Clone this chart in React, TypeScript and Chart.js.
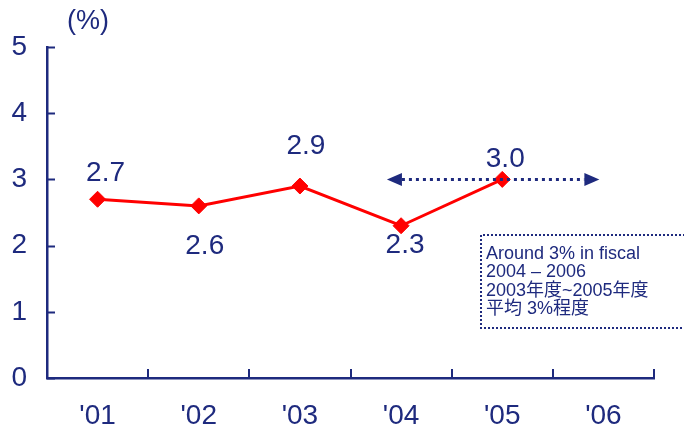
import React, { useEffect, useRef } from "react";
import { Chart, registerables } from "chart.js";

Chart.register(...registerables);

const categories = ["'01", "'02", "'03", "'04", "'05", "'06"];
const values: (number | null)[] = [2.7, 2.6, 2.9, 2.3, 3.0, null];
const valueLabels = ["2.7", "2.6", "2.9", "2.3", "3.0", ""];
const yTicks = [0, 1, 2, 3, 4, 5];
const unitLabel = "(%)";
const noteLines = ["Around 3% in fiscal", "2004 – 2006", "2003年度~2005年度", "平均 3%程度"];
// arrow range in category index units and its value
const arrowFrom = 2.86;
const arrowTo = 4.96;
const arrowValue = 3.0;

// style / layout config
const NAVY = "#1e2a7e";
const RED = "#ff0000";
const FONT = "'Liberation Sans', Arial, 'Noto Sans CJK JP', sans-serif";
const labelOffsets = [-26, 40, -40, 20, -20, 0];
const labelShifts = [8, 6, 6, 4, 3, 0];

const overlay = {
  id: "overlay",
  afterDraw(chart: any) {
    const { ctx, chartArea, scales } = chart;
    const x = scales.x;
    const y = scales.y;
    ctx.save();
    // inward ticks
    ctx.strokeStyle = NAVY;
    ctx.lineWidth = 2;
    ctx.beginPath();
    yTicks.forEach((v) => {
      const py = Math.round(y.getPixelForValue(v)) + 0.5;
      ctx.moveTo(chartArea.left, py);
      ctx.lineTo(chartArea.left + 8, py);
    });
    for (let i = 0; i <= categories.length; i++) {
      const px = Math.round(x.getPixelForValue(i - 0.5));
      ctx.moveTo(px, chartArea.bottom);
      ctx.lineTo(px, chartArea.bottom - 9);
    }
    ctx.stroke();

    // unit label
    ctx.fillStyle = NAVY;
    ctx.font = `27px ${FONT}`;
    ctx.textAlign = "center";
    ctx.textBaseline = "middle";
    ctx.fillText(unitLabel, chartArea.left + 41, chartArea.top - 25);

    // value labels
    ctx.font = `28px ${FONT}`;
    const meta = chart.getDatasetMeta(0);
    meta.data.forEach((pt: any, i: number) => {
      if (values[i] == null) return;
      ctx.fillText(valueLabels[i], pt.x + labelShifts[i], pt.y + labelOffsets[i]);
    });

    // dotted double arrow
    const ax1 = x.getPixelForValue(arrowFrom);
    const ax2 = x.getPixelForValue(arrowTo);
    const ay = y.getPixelForValue(arrowValue);
    const head = 15;
    const hh = 6.5;
    ctx.strokeStyle = NAVY;
    ctx.lineWidth = 3;
    ctx.setLineDash([3, 4]);
    ctx.beginPath();
    ctx.moveTo(ax1 + head, ay);
    ctx.lineTo(ax2 - head, ay);
    ctx.stroke();
    ctx.setLineDash([]);
    ctx.fillStyle = NAVY;
    ctx.beginPath();
    ctx.moveTo(ax1, ay);
    ctx.lineTo(ax1 + head, ay - hh);
    ctx.lineTo(ax1 + head, ay + hh);
    ctx.closePath();
    ctx.fill();
    ctx.beginPath();
    ctx.moveTo(ax2, ay);
    ctx.lineTo(ax2 - head, ay - hh);
    ctx.lineTo(ax2 - head, ay + hh);
    ctx.closePath();
    ctx.fill();

    // note box
    const bx = chartArea.left + 434;
    const by = chartArea.top + 188;
    const bh = 93;
    ctx.strokeStyle = NAVY;
    ctx.lineWidth = 2;
    ctx.setLineDash([2, 2]);
    ctx.beginPath();
    ctx.moveTo(chart.width + 5, by);
    ctx.lineTo(bx, by);
    ctx.lineTo(bx, by + bh);
    ctx.lineTo(chart.width + 5, by + bh);
    ctx.stroke();
    ctx.setLineDash([]);
    ctx.font = `18px ${FONT}`;
    ctx.textAlign = "left";
    ctx.textBaseline = "middle";
    noteLines.forEach((t, i) => {
      ctx.fillText(t, bx + 5, by + 19 + i * 18.5);
    });
    ctx.restore();
  },
};

export default function App() {
  const ref = useRef<HTMLCanvasElement>(null);
  useEffect(() => {
    document.body.style.margin = "0";
    const chart = new Chart(ref.current!, {
      type: "line",
      data: {
        labels: categories,
        datasets: [
          {
            data: values,
            borderColor: RED,
            backgroundColor: RED,
            borderWidth: 3,
            pointStyle: "rectRot",
            pointRadius: 8,
            pointBorderWidth: 1,
            pointBackgroundColor: RED,
            pointBorderColor: RED,
            spanGaps: false,
          },
        ],
      },
      options: {
        animation: false,
        responsive: false,
        events: [],
        layout: { padding: { top: 47, right: 30, left: 0, bottom: 0 } },
        plugins: { legend: { display: false }, tooltip: { enabled: false } },
        scales: {
          x: {
            type: "category",
            offset: true,
            grid: { display: false, drawTicks: false },
            border: { display: true, color: NAVY, width: 2.5 },
            ticks: { color: NAVY, font: { family: FONT, size: 28 }, padding: 21, maxRotation: 0 },
            afterFit: (s: any) => {
              s.height = 52;
            },
          },
          y: {
            min: 0,
            max: 5,
            afterBuildTicks: (s: any) => {
              s.ticks = yTicks.map((v) => ({ value: v }));
            },
            grid: { display: false, drawTicks: false },
            border: { display: true, color: NAVY, width: 2.5 },
            ticks: { color: NAVY, font: { family: FONT, size: 28 }, padding: 20 },
            afterFit: (s: any) => {
              s.width = 47;
            },
          },
        },
      },
      plugins: [overlay],
    });
    return () => chart.destroy();
  }, []);
  return <canvas ref={ref} width={684} height={430} style={{ display: "block" }} />;
}
